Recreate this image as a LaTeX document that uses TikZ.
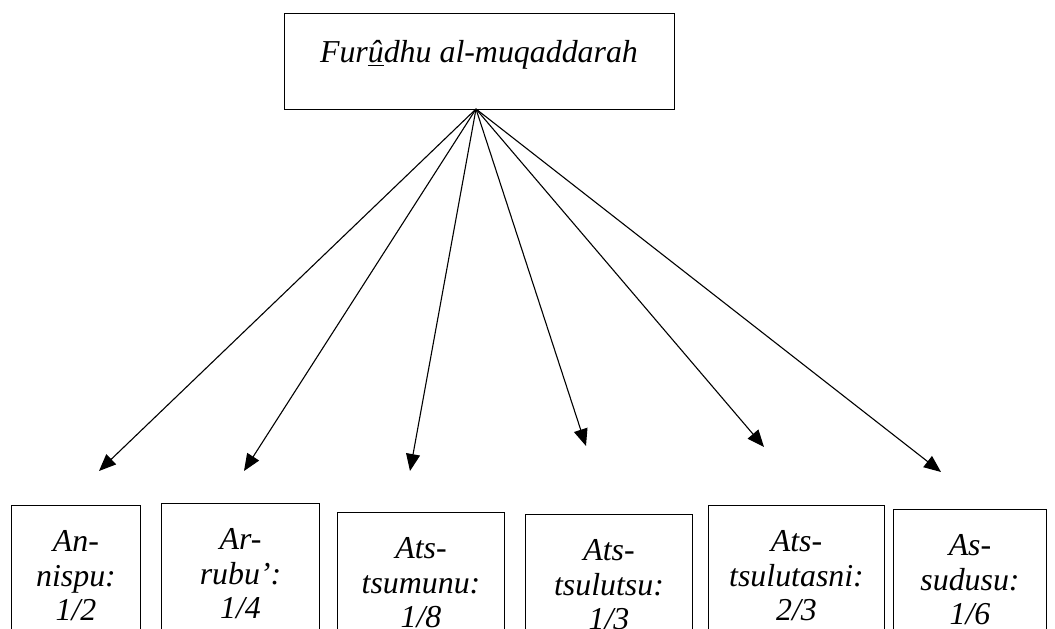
\documentclass[tikz,border=0pt]{standalone}
\usepackage{fontspec}
\setmainfont{Liberation Serif}
\usetikzlibrary{arrows.meta}
\begin{document}
\begin{tikzpicture}[x=1bp,y=-1bp,
  boxstyle/.style={draw, line width=1bp, inner sep=0pt, anchor=north west},
  txt/.style={inner sep=0pt, align=center, font=\fontsize{32}{35}\selectfont\itshape},
  conn/.style={line width=1.1bp, -{Triangle[length=17bp,width=14bp]}}]
\useasboundingbox (0,0) rectangle (1055,629);
\clip (0,0) rectangle (1055,629);
% top box
\node[boxstyle, minimum width=390bp, minimum height=96bp] (top) at (284,13) {};
\node[txt, anchor=base] (toptext) at (479,63) {Fur\underline{û}dhu al-muqaddarah};
\coordinate (o) at (476,109);
% bottom boxes
\node[boxstyle, minimum width=129bp, minimum height=150bp] (b1) at (11,505) {};
\node[boxstyle, minimum width=158bp, minimum height=150bp] (b2) at (161,503) {};
\node[boxstyle, minimum width=167bp, minimum height=150bp] (b3) at (337,512) {};
\node[boxstyle, minimum width=167bp, minimum height=150bp] (b4) at (525,514) {};
\node[boxstyle, minimum width=176bp, minimum height=150bp] (b5) at (708,505) {};
\node[boxstyle, minimum width=153bp, minimum height=150bp] (b6) at (893,509) {};
\node[txt, anchor=north] (t1) at ([yshift=-25bp]b1.north) {An-\\nispu:\\1/2};
\node[txt, anchor=north] (t2) at ([yshift=-25bp]b2.north) {Ar-\\rubu':\\1/4};
\node[txt, anchor=north] (t3) at ([yshift=-25bp]b3.north) {Ats-\\tsumunu:\\1/8};
\node[txt, anchor=north] (t4) at ([yshift=-25bp]b4.north) {Ats-\\tsulutsu:\\1/3};
\node[txt, anchor=north] (t5) at ([yshift=-25bp]b5.north) {Ats-\\tsulutasni:\\2/3};
\node[txt, anchor=north] (t6) at ([yshift=-25bp]b6.north) {As-\\sudusu:\\1/6};
% arrow ends
\coordinate (e1) at (99,471);
\coordinate (e2) at (244,471);
\coordinate (e3) at (410,471);
\coordinate (e4) at (586,446);
\coordinate (e5) at (764,447);
\coordinate (e6) at (941,472);
\foreach \i in {1,...,6} \draw[conn] (o) -- (e\i);
\end{tikzpicture}
\end{document}
